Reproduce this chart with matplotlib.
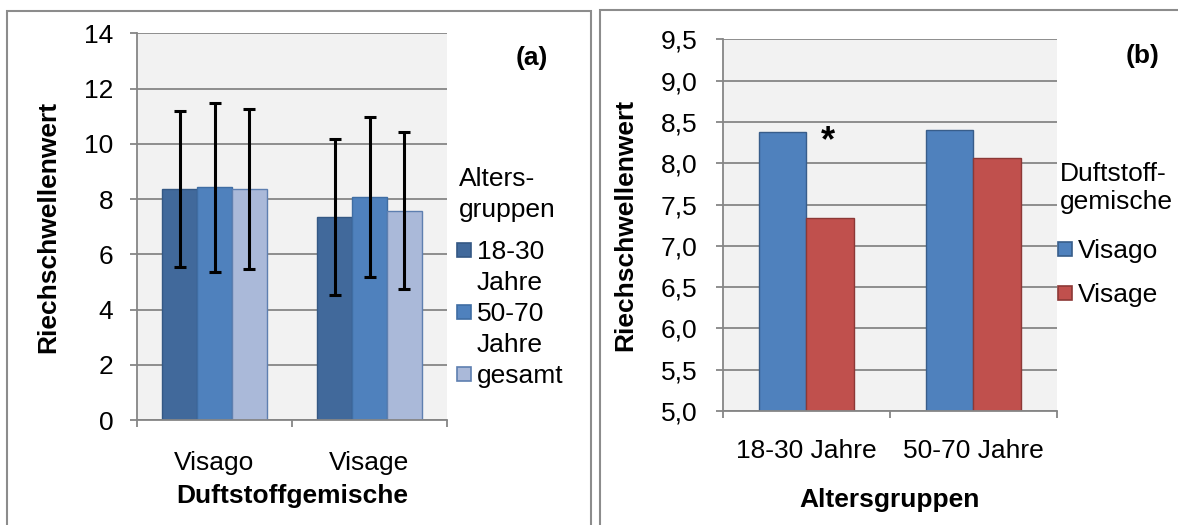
import matplotlib
matplotlib.use("Agg")
import matplotlib.pyplot as plt
from matplotlib.patches import Rectangle
import numpy as np

plt.rcParams['font.family'] = ['Liberation Sans', 'DejaVu Sans']

W, H = 1178, 525

# panel (a): means and SD per mixture, one list per age group
mixtures = ['Visago', 'Visage']
age_groups = ['18-30 Jahre', '50-70 Jahre', 'gesamt']
mean_young = [8.37, 7.34]
mean_old = [8.42, 8.07]
mean_all = [8.37, 7.58]
sd_young = [2.82, 2.82]
sd_old = [3.05, 2.90]
sd_all = [2.90, 2.83]

# panel (b): means per age group, one list per mixture
age_labels = ['18-30 Jahre', '50-70 Jahre']
visago_b = [8.38, 8.40]
visage_b = [7.34, 8.06]

GRID = '#868686'
FS = 19


def fx(x):
    return x / W


def fy(y):
    return 1 - y / H


def style_axes(ax, ymin, ymax, step, fmt):
    ax.set_facecolor('#F2F2F2')
    ax.set_xlim(-0.5, 1.5)
    ax.set_ylim(ymin, ymax)
    ticks = np.arange(ymin, ymax + step / 2, step)
    ax.set_yticks(ticks)
    ax.set_yticklabels([fmt(t) for t in ticks])
    ax.yaxis.grid(True, color=GRID, lw=1.3)
    ax.set_axisbelow(True)
    for s in ['top', 'right']:
        ax.spines[s].set_visible(False)
    for s in ['left', 'bottom']:
        ax.spines[s].set_color(GRID)
        ax.spines[s].set_linewidth(1.3)
    ax.tick_params(axis='y', length=5, width=1.3, color=GRID, pad=12, labelsize=FS)
    ax.set_xticks([-0.5, 0.5, 1.5], minor=True)
    ax.tick_params(axis='x', which='minor', length=5, width=1.3, color=GRID, direction='out')
    ax.tick_params(axis='x', which='major', length=0, labelsize=FS)


def lines_at(fig, x, base, text, step):
    # one text object per line so the first baseline sits exactly at `base`
    for k, line in enumerate(text.split('\n')):
        fig.text(fx(x), fy(base + k * step), line, fontsize=FS, va='baseline', ha='left')
    return text.count('\n') + 1


def draw_legend(fig, title, title_base, title_step, names, colors, edges,
                x_box, x_text, first_base, step_line, step_entry):
    lines_at(fig, x_box + 2, title_base, title, title_step)
    base = first_base
    for name, c, e in zip(names, colors, edges):
        fig.patches.append(Rectangle((fx(x_box), fy(base - 2)), 14 / W, 14 / H,
                                     facecolor=c, edgecolor=e, lw=1.2,
                                     transform=fig.transFigure))
        n = lines_at(fig, x_text, base, name, step_line)
        base += step_line * n if step_entry is None else step_entry


fig = plt.figure(figsize=(W / 100, H / 100), dpi=100)

# outer panel frames
fig.patches.append(Rectangle((fx(7), fy(540)), (591 - 7) / W, (540 - 11) / H, fill=False,
                             edgecolor='#8C8C8C', lw=1.5, transform=fig.transFigure))
fig.patches.append(Rectangle((fx(600), fy(540)), (1190 - 600) / W, (540 - 10) / H, fill=False,
                             edgecolor='#8C8C8C', lw=1.5, transform=fig.transFigure))

# ---- panel (a)
axa = fig.add_axes([fx(137), fy(420), 310 / W, 386.7 / H])
style_axes(axa, 0, 14, 2, lambda t: '%d' % t)
x = np.arange(len(mixtures))
bw = 0.224
cols_a = ['#41699B', '#4F81BD', '#AAB9D9']
edge_a = ['#345884', '#3F6DA3', '#5E7FB0']
means_a = [mean_young, mean_old, mean_all]
sds_a = [sd_young, sd_old, sd_all]
for i in range(3):
    axa.bar(x + (i - 1) * bw, means_a[i], bw, color=cols_a[i], edgecolor=edge_a[i], lw=1.0,
            yerr=sds_a[i], error_kw=dict(ecolor='black', elinewidth=2.2, capsize=4.5, capthick=2.2))
axa.set_xticks(x)
axa.set_xticklabels(mixtures)
axa.tick_params(axis='x', which='major', pad=22)
axa.set_ylabel('Riechschwellenwert', fontsize=FS, fontweight='bold', va='center')
axa.yaxis.set_label_coords((48 - 137) / 310, 0.5)
axa.set_xlabel('Duftstoffgemische', fontsize=FS, fontweight='bold', va='center')
axa.xaxis.set_label_coords(0.5, -(496 - 420) / 386.7)
fig.text(fx(532), fy(58), '(a)', fontsize=FS, fontweight='bold', ha='center', va='center')
draw_legend(fig, 'Alters-\ngruppen', 186, 31, [g.replace(' ', '\n') for g in age_groups],
            cols_a, edge_a, 457, 477, 259, 31, None)

# ---- panel (b)
axb = fig.add_axes([fx(722.7), fy(411), 334 / W, 371.7 / H])
style_axes(axb, 5.0, 9.5, 0.5, lambda t: ('%.1f' % t).replace('.', ','))
xb = np.arange(len(age_labels))
bwb = 0.285
axb.bar(xb - bwb / 2, visago_b, bwb, color='#4F81BD', edgecolor='#385D8A', lw=1.0)
axb.bar(xb + bwb / 2, visage_b, bwb, color='#C0504D', edgecolor='#8C3836', lw=1.0)
axb.set_xticks(xb)
axb.set_xticklabels(age_labels)
axb.tick_params(axis='x', which='major', pad=20)
axb.tick_params(axis='y', pad=13)
axb.set_ylabel('Riechschwellenwert', fontsize=FS, fontweight='bold', va='center')
axb.yaxis.set_label_coords((625 - 722.7) / 334, 0.5)
axb.set_xlabel('Altersgruppen', fontsize=FS, fontweight='bold', va='center')
axb.xaxis.set_label_coords(0.5, -(500 - 411) / 371.7)
axb.annotate('*', (xb[0] + 0.13, visago_b[0]), xytext=(0, -7), textcoords='offset points',
             fontsize=26, fontweight='bold', ha='center', va='center')
fig.text(fx(1143), fy(56), '(b)', fontsize=FS, fontweight='bold', ha='center', va='center')
draw_legend(fig, 'Duftstoff-\ngemische', 181, 28, ['Visago', 'Visage'],
            ['#4F81BD', '#C0504D'], ['#385D8A', '#8C3836'], 1058, 1078, 258, 31, 44)

fig.savefig('out.png', dpi=100)
